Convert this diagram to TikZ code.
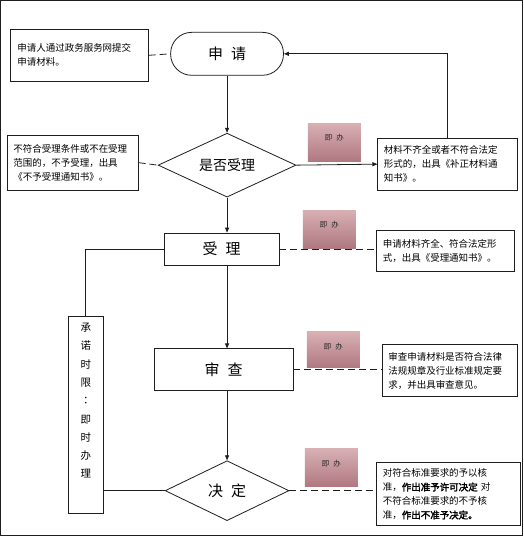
\documentclass[tikz,border=0pt]{standalone}
\usepackage{fontspec}
\setmainfont{Noto Sans CJK SC}[AutoFakeBold=2.5]
\newfontfamily\tcfont{Noto Sans CJK TC}
\usetikzlibrary{shapes.geometric,arrows.meta}
\definecolor{pinkA}{RGB}{216,176,180}
\definecolor{pinkB}{RGB}{176,120,128}
\definecolor{ln}{RGB}{30,30,30}
\tikzset{
  x=1pt, y=-1pt,
  every path/.style={line width=0.8pt, draw=ln},
  term/.style={draw=ln, line width=0.8pt, rounded corners=21pt, minimum width=113pt, minimum height=43pt, inner sep=0pt, font=\fontsize{15}{15}\selectfont},
  proc/.style={draw=ln, line width=0.8pt, rectangle, inner sep=0pt, font=\fontsize{15}{15}\selectfont},
  dec/.style={draw=ln, line width=0.8pt, diamond, aspect=2, inner sep=0pt},
  note/.style={draw=ln, line width=0.8pt, rectangle, align=left, inner sep=0pt, font=\fontsize{9.5}{14}\selectfont},
  jiban/.style={rectangle, draw=none, minimum width=53pt, minimum height=38pt, inner sep=0pt, top color=pinkA, bottom color=pinkB,
    label={[font=\fontsize{7.5}{7.5}\selectfont, text=black!85, anchor=north, yshift=-8pt]north:即\hspace{4pt}办}},
  arr/.style={-{Triangle[length=5pt,width=4pt]}},
  dsh/.style={dash pattern=on 7pt off 4pt}
}
\begin{document}
\begin{tikzpicture}
\useasboundingbox[fill=white] (0,0) rectangle (523,536);

% main flow
\node[term] (shen) at (227,53.5) {申\hspace{8pt}请};
\node[dec, minimum width=138pt, minimum height=64pt, font=\fontsize{14}{14}\selectfont] (d1) at (227,165) {是否受理};
\node[proc, minimum width=115pt, minimum height=32pt] (shouli) at (221.5,249) {受\hspace{8pt}理};
\node[proc, minimum width=139pt, minimum height=42pt] (shencha) at (223.5,370) {审\hspace{8pt}查};
\node[dec, minimum width=124pt, minimum height=60pt, font=\fontsize{15}{15}\selectfont] (d2) at (227,491) {决\hspace{8pt}定};

% notes
\node[note, minimum width=138pt, minimum height=52pt, text width=124pt] (n1) at (79,55) {申请人通过政务服务网提交\\申请材料。};
\node[note, minimum width=131pt, minimum height=55pt, text width=119pt] (n2) at (72.5,162.5) {不符合受理条件或不在受理\\范围的，不予受理，出具\\《不予受理通知书》。};
\node[note, minimum width=140pt, minimum height=52pt, text width=128pt] (n3) at (448,164) {材料不齐全或者不符合法定\\形式的，出具《补正材料通\\知书》。};
\node[note, minimum width=138pt, minimum height=41pt, text width=126pt] (n4) at (446,250.5) {申请材料齐全、符合法定形\\式，出具《受理通知书》。};
\node[note, minimum width=135pt, minimum height=52pt, text width=123pt] (n5) at (450,371) {审查申请材料是否符合法律\\法规规章及行业标准规定要\\求，并出具审查意见。};
\node[note, minimum width=144pt, minimum height=63pt, text width=132pt] (n6) at (449,494.5) {对符合标准要求的予以核\\准，\textbf{作出准予许可决定} 对\\不符合标准要求的不予核\\准，\textbf{作出不准予决定。}};

% time limit box
\node[draw=ln, line width=0.8pt, rectangle, minimum width=35pt, minimum height=198pt, inner sep=0pt] (cheng) at (85.5,415) {};
\node[inner sep=0pt, align=center, font=\fontsize{10.5}{18.3}\selectfont] (chengtxt) at (85.5,401) {承\\诺\\时\\限\\{\tcfont ：}\\即\\时\\办\\理};

% pink boxes
\node[jiban] (j1) at (334.5,142) {};
\node[jiban] (j2) at (329.5,229) {};
\node[jiban, minimum height=36pt] (j3) at (333.5,350) {};
\node[jiban] (j4) at (331.5,468) {};

% connectors
\draw[arr] (shen.south) -- (d1.north);
\draw[arr] (d1.south) -- (d1.south |- shouli.north);
\draw[arr] (d1.south |- shouli.south) -- (d1.south |- shencha.north);
\draw[arr] (d1.south |- shencha.south) -- (d2.north);
\draw[arr] (d1.east) -- (n3.west);
\draw[arr] (n3.north) -- (n3.north |- shen.east) -- (shen.east);
\draw (shouli.west) -- (shouli.west -| cheng.north) -- (cheng.north);
\draw (cheng.east |- d2.west) -- (d2.west);

\draw[dsh] (n1.east) -- (shen.west);
\draw[dsh] (n2.east) -- (d1.west);
\draw[dsh] (shouli.east) -- (shouli.east -| n4.west);
\draw[dsh] (shencha.east) -- (shencha.east -| n5.west);
\draw[dsh] (d2.east) -- (d2.east -| n6.west);
\end{tikzpicture}
\end{document}
